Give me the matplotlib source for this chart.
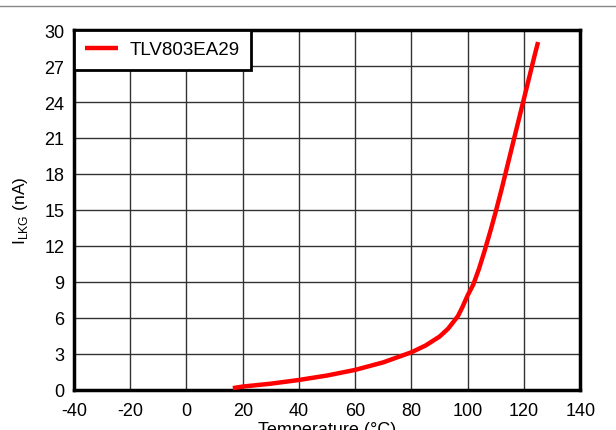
import matplotlib
matplotlib.use('Agg')
import matplotlib.pyplot as plt
from matplotlib.lines import Line2D

plt.rcParams['font.family'] = ['Liberation Sans', 'DejaVu Sans']
plt.rcParams['mathtext.fontset'] = 'custom'
plt.rcParams['mathtext.rm'] = 'Liberation Sans'
plt.rcParams['axes.unicode_minus'] = False

# leakage current vs temperature
temp_c = [16.5, 20, 30, 40, 50, 60, 70, 80, 85, 90, 93, 95, 96.5, 98, 100,
          102, 104, 106, 108, 110, 112, 114, 116, 118, 120, 122, 124, 125]
ilkg_na = [0.15, 0.28, 0.52, 0.83, 1.2, 1.67, 2.3, 3.14, 3.7, 4.45, 5.1, 5.7,
           6.15, 6.85, 7.9, 8.8, 10.1, 11.6, 13.2, 14.9, 16.7, 18.6, 20.5,
           22.4, 24.3, 26.2, 28.1, 29.0]
series_name = 'TLV803EA29'
x_ticks = list(range(-40, 141, 20))
y_ticks = list(range(0, 31, 3))

fig = plt.figure(figsize=(6.16, 4.31), dpi=100)
ax = fig.add_axes([0.120, 0.093, 0.822, 0.835])

ax.plot(temp_c, ilkg_na, color='#ff0000', lw=3.2, label=series_name,
        solid_capstyle='butt', zorder=3)

ax.set_xlim(-40, 140)
ax.set_ylim(0, 30)
ax.set_xticks(x_ticks)
ax.set_yticks(y_ticks)
ax.grid(True, color='#333333', lw=1)
ax.tick_params(length=0, labelsize=13, colors='black')
ax.tick_params(axis='x', pad=9)
ax.tick_params(axis='y', pad=7)
for s in ax.spines.values():
    s.set_linewidth(2.5)
    s.set_color('black')

ax.set_xlabel('Temperature (°C)', fontsize=13, labelpad=1)
ax.set_ylabel(r'I$_{\mathregular{LKG}}$ (nA)', fontsize=12.5, labelpad=10)

leg = ax.legend(loc='upper left', fontsize=13.5, fancybox=False, framealpha=1,
                edgecolor='black', borderaxespad=0, handlelength=1.75,
                borderpad=0.6, handletextpad=0.6)
leg.get_frame().set_linewidth(2)

# thin rule across the top of the picture
fig.add_artist(Line2D([0, 1], [0.984, 0.984], color='#888888', lw=1))

fig.savefig('out.png', dpi=100)
